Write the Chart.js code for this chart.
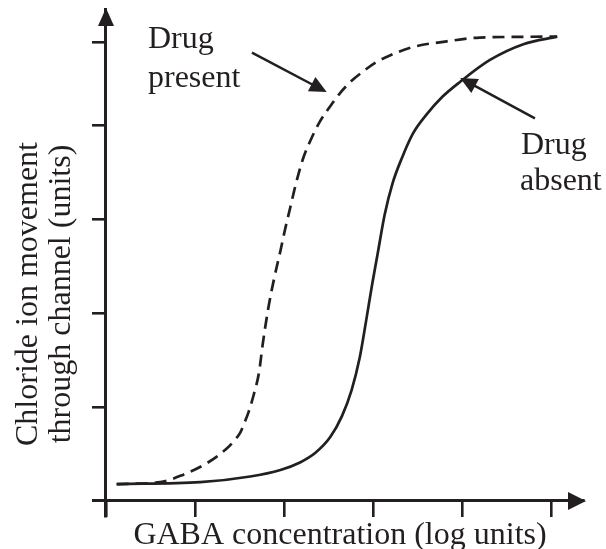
<!DOCTYPE html>
<html>
<head>
<meta charset="utf-8">
<script src="https://cdn.jsdelivr.net/npm/chart.js@4"></script>
<style>
  html, body { margin: 0; padding: 0; background: #fff; }
  #wrap { width: 606px; height: 549px; }
</style>
</head>
<body>
<div id="wrap"><canvas id="chart" width="606" height="549"></canvas></div>
<script>
// curve values (x in log units, y in units)
const absentX  = [0.12, 1.06, 1.62, 1.96, 2.18, 2.35, 2.52, 2.65, 2.76, 2.85, 2.92, 2.99, 3.06, 3.13, 3.22, 3.33, 3.45, 3.61, 3.78, 3.98, 4.31, 4.69, 5.07];
const absentY  = [0.18, 0.20, 0.26, 0.33, 0.41, 0.51, 0.68, 0.90, 1.18, 1.52, 1.90, 2.30, 2.67, 3.04, 3.38, 3.66, 3.91, 4.12, 4.30, 4.46, 4.69, 4.86, 4.94];
const presentX = [0.12, 0.61, 0.87, 1.13, 1.36, 1.44, 1.51, 1.55, 1.60, 1.66, 1.72, 1.76, 1.82, 1.89, 1.96, 2.01, 2.07, 2.13, 2.21, 2.30, 2.40, 2.52, 2.63, 2.76, 2.89, 3.04, 3.19, 3.45, 3.83, 4.20, 5.07];
const presentY = [0.18, 0.20, 0.28, 0.40, 0.56, 0.64, 0.73, 0.82, 0.94, 1.13, 1.37, 1.66, 2.03, 2.37, 2.66, 2.88, 3.12, 3.36, 3.63, 3.84, 4.03, 4.20, 4.34, 4.47, 4.57, 4.67, 4.74, 4.83, 4.89, 4.93, 4.94];
const xTicks = [0, 1, 2, 3, 4, 5];
const yTicks = [1, 2, 3, 4, 4.88];

const ink = '#231f20';
const serif = '"Liberation Serif", "DejaVu Serif", serif';

function toPoints(xs, ys) {
  return xs.map((x, i) => ({ x: x, y: ys[i] }));
}

function arrowHead(ctx, x1, y1, x2, y2, len, half) {
  const a = Math.atan2(y2 - y1, x2 - x1);
  ctx.beginPath();
  ctx.moveTo(x2, y2);
  ctx.lineTo(x2 - len * Math.cos(a) + half * Math.sin(a), y2 - len * Math.sin(a) - half * Math.cos(a));
  ctx.lineTo(x2 - len * Math.cos(a) - half * Math.sin(a), y2 - len * Math.sin(a) + half * Math.cos(a));
  ctx.closePath();
  ctx.fill();
}

// axis arrows, pointer arrows and all the text
const decorations = {
  id: 'decorations',
  afterDraw(chart) {
    const ctx = chart.ctx;
    const xs = chart.scales.x, ys = chart.scales.y;
    const area = chart.chartArea;
    const x0 = xs.getPixelForValue(0), y0 = ys.getPixelForValue(0);
    ctx.save();
    ctx.fillStyle = ink;
    ctx.strokeStyle = ink;

    // axis arrowheads
    arrowHead(ctx, area.left, y0, area.right + 3, y0, 18, 9);
    arrowHead(ctx, x0, area.bottom, x0, area.top - 1, 18, 8);

    // pointers
    const ptr = [
      [1.64, 4.77, 2.48, 4.35],
      [4.82, 4.07, 3.98, 4.50]
    ];
    ctx.lineWidth = 2.5;
    ptr.forEach(p => {
      const ax = xs.getPixelForValue(p[0]), ay = ys.getPixelForValue(p[1]);
      const bx = xs.getPixelForValue(p[2]), by = ys.getPixelForValue(p[3]);
      const a = Math.atan2(by - ay, bx - ax);
      ctx.beginPath();
      ctx.moveTo(ax, ay);
      ctx.lineTo(bx - 12 * Math.cos(a), by - 12 * Math.sin(a));
      ctx.stroke();
      arrowHead(ctx, ax, ay, bx, by, 17, 8);
    });

    ctx.font = '32px ' + serif;
    ctx.textBaseline = 'alphabetic';
    ctx.textAlign = 'left';
    ctx.fillText('Drug', 148, 48);
    ctx.fillText('present', 148, 87);
    ctx.fillText('Drug', 521, 154);
    ctx.fillText('absent', 520, 190);

    ctx.textAlign = 'center';
    ctx.fillText('GABA concentration (log units)', 340, 544);

    ctx.translate(0, 294);
    ctx.rotate(-Math.PI / 2);
    ctx.textBaseline = 'middle';
    ctx.fillText('Chloride ion movement', 0, 29);
    ctx.fillText('through channel (units)', 0, 62);
    ctx.restore();
  }
};

new Chart(document.getElementById('chart').getContext('2d'), {
  type: 'scatter',
  data: {
    datasets: [
      {
        label: 'Drug absent',
        data: toPoints(absentX, absentY),
        showLine: true,
        borderColor: ink,
        borderWidth: 2.7,
        pointRadius: 0,
        cubicInterpolationMode: 'monotone'
      },
      {
        label: 'Drug present',
        data: toPoints(presentX, presentY),
        showLine: true,
        borderColor: ink,
        borderWidth: 2.7,
        borderDash: [12, 7],
        pointRadius: 0,
        cubicInterpolationMode: 'monotone'
      }
    ]
  },
  options: {
    responsive: false,
    animation: false,
    layout: { padding: { left: 93, right: 23, top: 9, bottom: 33 } },
    plugins: {
      legend: { display: false },
      tooltip: { enabled: false }
    },
    scales: {
      x: {
        type: 'linear',
        min: -0.146,
        max: 5.36,
        position: { y: 0 },
        afterBuildTicks: s => { s.ticks = xTicks.map(v => ({ value: v })); },
        ticks: { display: false },
        grid: { drawOnChartArea: false, drawTicks: true, tickLength: 15, lineWidth: 2.6, color: ink },
        border: { display: true, width: 3, color: ink }
      },
      y: {
        type: 'linear',
        min: -0.16,
        max: 5.234,
        position: { x: 0 },
        afterBuildTicks: s => { s.ticks = yTicks.map(v => ({ value: v })); },
        ticks: { display: false },
        grid: { drawOnChartArea: false, drawTicks: true, tickLength: 12, lineWidth: 2.6, color: ink },
        border: { display: true, width: 3, color: ink }
      }
    }
  },
  plugins: [decorations]
});
</script>
</body>
</html>
